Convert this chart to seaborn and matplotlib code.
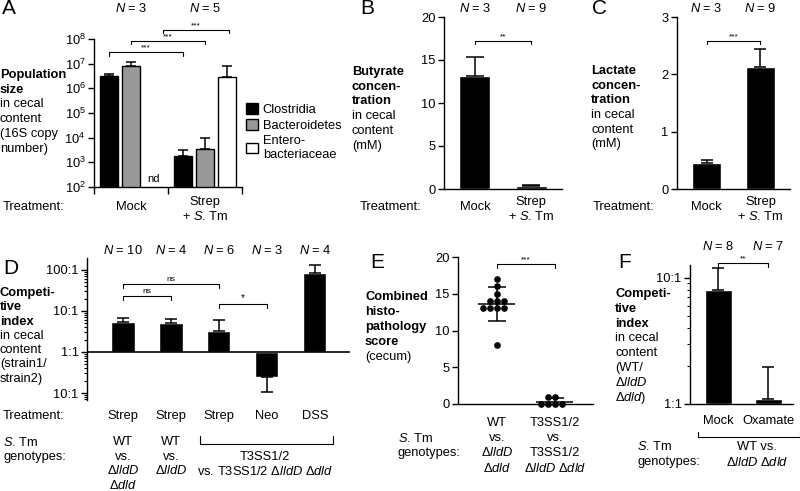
import numpy as np
import pandas as pd
import seaborn as sns
import matplotlib.pyplot as plt
import matplotlib.transforms as mtransforms
from matplotlib.ticker import FixedLocator, NullLocator

# Six-panel figure: microbiota / metabolites / competitive index / histopathology

sns.set_theme(style="ticks")
plt.rcParams['font.family'] = ['Liberation Sans', 'DejaVu Sans']
plt.rcParams['mathtext.fontset'] = 'custom'
plt.rcParams['mathtext.rm'] = 'Liberation Sans'
plt.rcParams['mathtext.it'] = 'Liberation Sans:italic'
plt.rcParams['mathtext.bf'] = 'Liberation Sans:bold'
for k in ['axes.edgecolor', 'xtick.color', 'ytick.color', 'text.color', 'axes.labelcolor']:
    plt.rcParams[k] = 'black'
plt.rcParams['axes.linewidth'] = 1.0

# ---- data ----
# A: population size (16S copy number), Enterobacteriaceae not detected in Mock
pop_groups = ["Mock", "Strep + S. Tm"]
pop_taxa = ["Clostridia", "Bacteroidetes", "Entero-\nbacteriaceae"]
pop_colors = ["black", "#999999", "white"]
pop_mock = [3.1e6, 8.1e6, np.nan]
pop_mock_err = [3.9e6, 1.15e7, np.nan]
pop_strep = [1.8e3, 3.4e3, 2.8e6]
pop_strep_err = [3.3e3, 9.5e3, 8.0e6]
pop_n = [3, 5]

# B / C: butyrate and lactate (mM)
bc_treat = ["Mock", "Strep + S. Tm"]
butyrate = [13.1, 0.3]
butyrate_err = [15.3, 0.5]
lactate = [0.45, 2.12]
lactate_err = [0.5, 2.44]
bc_n = [3, 9]

# D: competitive index (strain1/strain2)
ci_treat = ["Strep", "Strep", "Strep", "Neo", "DSS"]
ci_ratio = [5.4, 5.1, 3.2, 0.245, 85]
ci_err = [6.7, 6.5, 6.0, 0.105, 132]
ci_n = [10, 4, 6, 3, 4]

# E: combined histopathology score
histo_wt = [17, 16, 15, 14, 14, 14, 13, 13, 13, 13, 8]
histo_t3 = [1, 0, 0, 0, 0, 1]

# F: competitive index WT / lldD dld
ox_treat = ["Mock", "Oxamate"]
ox_ratio = [8.0, 1.1]
ox_err = [12.0, 1.96]
ox_n = [8, 7]

# ---- helpers (pixel positions on an 800x491 canvas) ----
W, H = 800, 491
fig = plt.figure(figsize=(8, 4.91), dpi=100)


def fx(px):
    return px / W


def fy(py):
    return 1 - py / H


def panel(l, r, t, b):
    return fig.add_axes([fx(l), fy(b), (r - l) / W, (b - t) / H])


def ftext(px, py, s, **kw):
    kw.setdefault('fontsize', 9.3)
    kw.setdefault('ha', 'left')
    fig.text(fx(px), fy(py), s, va='center', **kw)


def xtext(ax, x, py, s, **kw):
    tr = mtransforms.blended_transform_factory(ax.transData, fig.transFigure)
    kw.setdefault('fontsize', 9.3)
    ax.text(x, fy(py), s, transform=tr, ha='center', va='center', clip_on=False, **kw)


def bracket(ax, x1, x2, py, label='', h=3.5, down=True, fs=6):
    tr = mtransforms.blended_transform_factory(ax.transData, fig.transFigure)
    y, d = fy(py), h / H
    e = y - d if down else y + d
    ax.plot([x1, x1, x2, x2], [e, y, y, e], color='black', lw=0.8,
            transform=tr, clip_on=False)
    if label:
        ax.text((x1 + x2) / 2, y + 1.0 / H, label, transform=tr, ha='center',
                va='bottom', fontsize=fs, clip_on=False)


def side_label(px, py0, lines, nbold, dy=14.7):
    for i, s in enumerate(lines):
        ftext(px, py0 + i * dy, s, fontweight='bold' if i < nbold else 'normal')


def style(ax):
    sns.despine(ax=ax)
    ax.set_xlabel('')
    ax.set_ylabel('')
    ax.tick_params(axis='both', which='major', length=4, width=1, labelsize=9.3, pad=2)
    ax.tick_params(axis='both', which='minor', length=2.5, width=0.8)
    ax.tick_params(axis='x', length=0)


ekw = dict(fmt='none', ecolor='black', elinewidth=1.1, capthick=1.1)
ntext = lambda n: r"$\mathit{N}$ = %d" % n
stm = r"$\mathit{S}$. Tm"
lldd = r"Δ$\mathit{lldD}$"
dld = r"Δ$\mathit{dld}$"

# ---- A ----
axA = panel(94, 242, 39, 187)
dfA = pd.DataFrame({'treatment': np.repeat(pop_groups, 3),
                    'taxon': pop_taxa * 2,
                    'copies': pop_mock + pop_strep})
sns.barplot(data=dfA, x='treatment', y='copies', hue='taxon', order=pop_groups,
            hue_order=pop_taxa, palette=pop_colors, edgecolor='black', linewidth=1,
            width=0.9, gap=0.2, errorbar=None, saturation=1, ax=axA)
axA.set_yscale('log')
axA.set_ylim(1e2, 1e8)
axA.yaxis.set_major_locator(FixedLocator([10.0 ** e for e in range(2, 9)]))
axA.yaxis.set_minor_locator(NullLocator())
style(axA)
axA.set_xlim(-0.5, 1.5)
axA.set_xticks([-0.5, 0.5, 1.5])
axA.set_xticklabels([])
axA.tick_params(axis='x', length=5, width=1)
offs = [-0.3, 0.0, 0.3]
for g, (vals, tops) in enumerate([(pop_mock, pop_mock_err), (pop_strep, pop_strep_err)]):
    for o, v, t in zip(offs, vals, tops):
        if np.isfinite(v):
            axA.errorbar(g + o, v, yerr=[[0], [t - v]], capsize=3.6, **ekw)
xtext(axA, 0.3, 179, 'nd', fontsize=8)
leg = axA.get_legend()
handles, labels = leg.legend_handles, [t.get_text() for t in leg.get_texts()]
axA.legend(handles, labels, loc='upper left', bbox_to_anchor=(fx(246), fy(103)),
           bbox_transform=fig.transFigure, frameon=False, fontsize=9.3,
           handlelength=0.9, handleheight=0.9, handletextpad=0.4,
           labelspacing=0.25, borderpad=0, borderaxespad=0)
bracket(axA, -0.3, 0.7, 52, '***')
bracket(axA, 0.0, 1.0, 41, '***')
bracket(axA, 0.43, 1.32, 30, '***')
for i, n in enumerate(pop_n):
    xtext(axA, i, 8, ntext(n))
ftext(2, 9, 'A', fontsize=15)
side_label(0, 75, ["Population", "size", "in cecal", "content", "(16S copy", "number)"], 2)
ftext(3, 207, "Treatment:")
xtext(axA, 0, 207, "Mock")
xtext(axA, 1, 202, "Strep")
xtext(axA, 1, 216, "+ " + stm)


# ---- B and C ----
def conc_panel(l, r, vals, tops, ymax, cap):
    ax = panel(l, r, 17, 189)
    sns.barplot(x=bc_treat, y=vals, color='black', width=0.55, errorbar=None,
                saturation=1, ax=ax)
    ax.errorbar(range(len(vals)), vals,
                yerr=[np.zeros(len(vals)), np.array(tops) - np.array(vals)],
                capsize=cap, **ekw)
    style(ax)
    ax.set_xticks([])
    ax.set_ylim(0, ymax)
    ax.set_xlim(-0.55, 1.55)
    bracket(ax, 0, 1, 41, '**' if ymax == 20 else '***')
    for i, n in enumerate(bc_n):
        xtext(ax, i, 8, ntext(n))
    xtext(ax, 0, 207, "Mock")
    xtext(ax, 1, 202, "Strep")
    xtext(ax, 1, 216, "+ " + stm)
    return ax


axB = conc_panel(444, 562, butyrate, butyrate_err, 20, 6.5)
axB.set_yticks([0, 5, 10, 15, 20])
ftext(360, 9, 'B', fontsize=15)
side_label(352, 72, ["Butyrate", "concen-", "tration", "in cecal", "content", "(mM)"], 3)
ftext(360, 207, "Treatment:")

axC = conc_panel(677, 790, lactate, lactate_err, 3, 4.5)
axC.set_yticks([0, 1, 2, 3])
ftext(592, 9, 'C', fontsize=15)
side_label(591, 71, ["Lactate", "concen-", "tration", "in cecal", "content", "(mM)"], 3)
ftext(593, 207, "Treatment:")


# ---- log-ratio axis helper for D and F ----
def ratio_axis(ax, lo, hi, majors, labels):
    ax.set_ylim(lo, hi)
    ax.set_yticks(majors)
    ax.set_yticklabels(labels)
    minors = [d + np.log10(k) for d in range(-2, 3) for k in range(2, 10)
              if lo <= d + np.log10(k) <= hi]
    ax.yaxis.set_minor_locator(FixedLocator(minors))


# ---- D ----
axD = panel(87, 350, 258, 400)
dfD = pd.DataFrame({'pos': range(len(ci_ratio)), 'log_ci': np.log10(ci_ratio)})
sns.barplot(data=dfD, x='pos', y='log_ci', color='black', width=0.48,
            errorbar=None, saturation=1, ax=axD)
style(axD)
axD.spines['bottom'].set_visible(False)
axD.set_xticks([])
axD.set_xlim(-0.75, 4.73)
ratio_axis(axD, -1.17, 2.29, [-1, 0, 1, 2], ["10:1", "1:1", "10:1", "100:1"])
axD.axhline(0, color='black', lw=1.2)
lv, le = np.log10(ci_ratio), np.log10(ci_err)
up = np.where(lv > 0, le - lv, 0)
dn = np.where(lv < 0, lv - le, 0)
axD.errorbar(dfD['pos'], lv, yerr=[dn, up], capsize=4.3, **ekw)
bracket(axD, 0, 2, 284, 'ns')
bracket(axD, 0, 1, 296, 'ns')
bracket(axD, 2, 3, 304, '*', fs=7)
for i, n in enumerate(ci_n):
    xtext(axD, i, 251, ntext(n))
for i, t in enumerate(ci_treat):
    xtext(axD, i, 416, t)
ftext(3, 268, 'D', fontsize=15)
side_label(0, 293, ["Competi-", "tive", "index", "in cecal", "content", "(strain1/",
                    "strain2)"], 3, dy=14.3)
ftext(3, 416, "Treatment:")
ftext(3, 442, stm)
ftext(3, 457, "genotypes:")
for i, rows in enumerate([["WT", "vs.", lldd, dld], ["WT", "vs.", lldd]]):
    for j, s in enumerate(rows):
        xtext(axD, i, 442 + j * 14.5, s)
bracket(axD, 1.6, 4.375, 444, h=8, down=False)
xtext(axD, 2.96, 457, "T3SS1/2")
xtext(axD, 2.96, 471.5, "vs. T3SS1/2 " + lldd + " " + dld)

# ---- E ----
axE = panel(458, 593, 257, 404)
dfE = pd.DataFrame({'strain': ['WT'] * len(histo_wt) + ['T3SS'] * len(histo_t3),
                    'score': histo_wt + histo_t3})
sns.swarmplot(data=dfE, x='strain', y='score', color='black', size=4.8, ax=axE)
for c in axE.collections:
    c.set_clip_on(False)
stats = dfE.groupby('strain', sort=False)['score'].agg(['mean', 'std'])
for i, (m, sd) in enumerate(zip(stats['mean'], stats['std'])):
    axE.hlines(m, i - 0.32, i + 0.32, color='black', lw=1.1)
    axE.errorbar(i, m, yerr=sd, capsize=6.8, **ekw)
style(axE)
axE.set_xticks([])
axE.set_xlim(-0.67, 1.66)
axE.set_ylim(0, 20)
axE.set_yticks([0, 5, 10, 15, 20])
bracket(axE, 0, 1, 264, '***')
ftext(370, 262, 'E', fontsize=15)
side_label(365, 297, ["Combined", "histo-", "pathology", "score", "(cecum)"], 4, dy=15)
ftext(398, 438, stm)
ftext(398, 453, "genotypes:")
for i, rows in enumerate([["WT", "vs.", lldd, dld],
                          ["T3SS1/2", "vs.", "T3SS1/2", lldd + " " + dld]]):
    for j, s in enumerate(rows):
        xtext(axE, i, 423 + j * 15, s)

# ---- F ----
axF = panel(690, 793, 265, 404)
lo_, le_ = np.log10(ox_ratio), np.log10(ox_err)
sns.barplot(x=ox_treat, y=lo_, color='black', width=0.54, errorbar=None,
            saturation=1, ax=axF)
axF.errorbar(range(len(lo_)), lo_, yerr=[np.zeros(len(lo_)), le_ - lo_],
             capsize=4.3, **ekw)
style(axF)
axF.set_xticks([])
axF.set_xlim(-0.56, 1.5)
ratio_axis(axF, 0, 1.1, [0, 1], ["1:1", "10:1"])
bracket(axF, 0, 1, 263, '**')
for i, n in enumerate(ox_n):
    xtext(axF, i, 247, ntext(n))
for i, t in enumerate(ox_treat):
    xtext(axF, i, 421, t)
ftext(618, 262, 'F', fontsize=15)
side_label(615, 294, ["Competi-", "tive", "index", "in cecal", "content", "(WT/",
                      lldd, dld + ")"], 3, dy=14.8)
ftext(637, 447, stm)
ftext(637, 462, "genotypes:")
bracket(axF, -0.4, 1.64, 437, h=5, down=False)
xtext(axF, 0.78, 447, "WT vs.")
xtext(axF, 0.78, 462, lldd + " " + dld)

fig.savefig('out.png', dpi=100)
